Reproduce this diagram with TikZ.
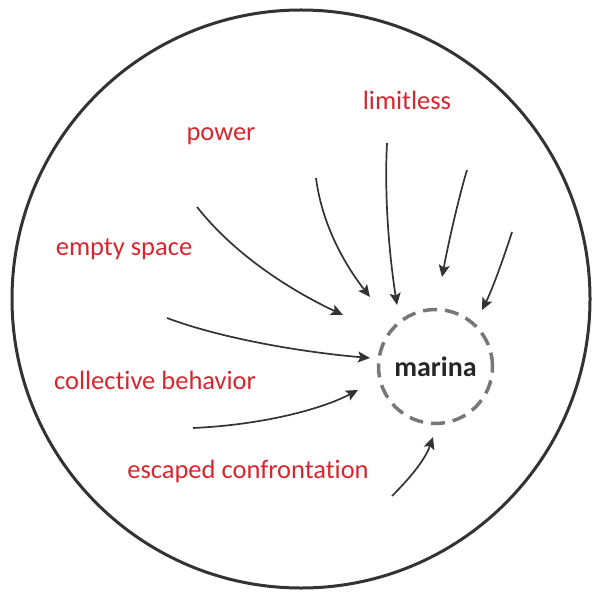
\documentclass[tikz,border=0pt]{standalone}
\usepackage{fontspec}
\setmainfont{Carlito}[Ligatures=NoCommon]
\usetikzlibrary{arrows.meta}
\definecolor{lblred}{HTML}{D7262E}
\definecolor{arrgray}{HTML}{333333}
\definecolor{dashgray}{HTML}{777777}
\begin{document}
\begin{tikzpicture}[x=1pt,y=-1pt,
  lbl/.style={text=lblred,font=\fontsize{26.5}{28}\selectfont,inner sep=0pt},
  flow/.style={draw=arrgray,line width=1.7pt,-{Stealth[length=12pt,width=11pt,inset=2.5pt]}},
  outer/.style={draw=black!80,line width=3pt},
  core/.style={draw=dashgray,line width=3.5pt,dash pattern=on 14pt off 8pt,circle,minimum size=114pt,inner sep=0pt,
    font=\bfseries\fontsize{28}{30}\selectfont,text=black!85}]
\useasboundingbox (0,0) rectangle (593,593);
\draw[outer] (301,299) circle (289);
\node[core] (marina) at (435.5,366.5) {marina};
\node[lbl] (limitless) at (407,100) {limitless};
\node[lbl] (power) at (221,136) {power};
\node[lbl] (empty) at (124,249) {empty space};
\node[lbl] (collective) at (155,380) {collective behavior};
\node[lbl] (escaped) at (248,471) {escaped confrontation};
% arrow end points
\coordinate (s1) at (197,207); \coordinate (e1) at (343,315);
\coordinate (s2) at (167,318); \coordinate (e2) at (370,358);
\coordinate (s3) at (193,428); \coordinate (e3) at (358,390);
\coordinate (s4) at (316,178); \coordinate (e4) at (370,297);
\coordinate (s5) at (387,143); \coordinate (e5) at (397,305);
\coordinate (s6) at (467,170); \coordinate (e6) at (442,277);
\coordinate (s7) at (512,232); \coordinate (e7) at (482,310);
\coordinate (s8) at (392,496); \coordinate (e8) at (433,437);
\draw[flow] (s1) .. controls (235,255) and (290,290) .. (e1);
\draw[flow] (s2) .. controls (220,338) and (300,352) .. (e2);
\draw[flow] (s3) .. controls (260,425) and (320,410) .. (e3);
\draw[flow] (s4) .. controls (322,225) and (345,265) .. (e4);
\draw[flow] (s5) .. controls (384,200) and (390,260) .. (e5);
\draw[flow] (s6) .. controls (458,200) and (448,245) .. (e6);
\draw[flow] (s7) .. controls (503,260) and (492,290) .. (e7);
\draw[flow] (s8) .. controls (410,478) and (425,460) .. (e8);
\end{tikzpicture}
\end{document}
